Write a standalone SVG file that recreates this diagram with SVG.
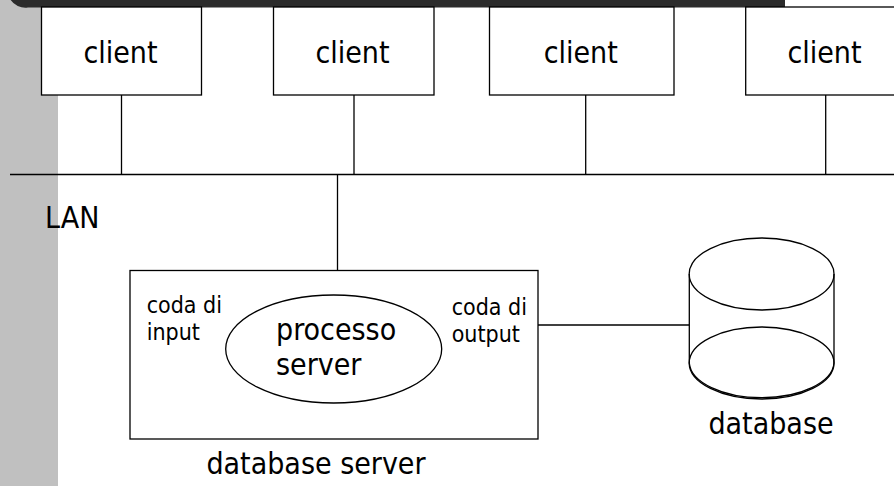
<svg xmlns="http://www.w3.org/2000/svg" width="894" height="486" viewBox="0 0 894 486">
<style>
.ln{stroke:#000;stroke-width:1.3;fill:none}
.box{stroke:#000;stroke-width:1.3;fill:#fff}
.t{font-family:"DejaVu Sans Condensed","DejaVu Sans",sans-serif;font-stretch:condensed;fill:#000}
.big{font-size:30px}
.sm{font-size:23px}
</style>
<rect x="0" y="0" width="58" height="486" fill="#c0c0c0"/>
<path d="M10,-1 H785 V7.5 H28 A18,18 0 0 1 10,-1 Z" fill="#2b2b2b"/>
<g id="connectors">
<line class="ln" x1="10" y1="174.5" x2="894" y2="174.5"/>
<line class="ln" x1="121.5" y1="95" x2="121.5" y2="174.5"/>
<line class="ln" x1="354" y1="95" x2="354" y2="174.5"/>
<line class="ln" x1="585.7" y1="95" x2="585.7" y2="174.5"/>
<line class="ln" x1="825.7" y1="95" x2="825.7" y2="174.5"/>
<line class="ln" x1="337.5" y1="174.5" x2="337.5" y2="270.5"/>
<line class="ln" x1="538" y1="325" x2="689.5" y2="325"/>
</g>
<g id="client1">
<rect class="box" x="41.5" y="7" width="160" height="88"/>
<text class="t big" x="120.5" y="63" text-anchor="middle">client</text>
</g>
<g id="client2">
<rect class="box" x="273.5" y="7" width="160.5" height="88"/>
<text class="t big" x="352.5" y="63" text-anchor="middle">client</text>
</g>
<g id="client3">
<rect class="box" x="489.5" y="7" width="184.5" height="88"/>
<text class="t big" x="580.7" y="63" text-anchor="middle">client</text>
</g>
<g id="client4">
<rect class="box" x="745.7" y="7" width="160" height="88"/>
<text class="t big" x="824.5" y="63" text-anchor="middle">client</text>
</g>
<g id="lan">
<text class="t big" x="45" y="228">LAN</text>
</g>
<g id="server">
<rect class="box" x="130" y="270.5" width="408" height="168.5"/>
<ellipse class="ln" cx="333.7" cy="349" rx="108" ry="54"/>
<text class="t big" x="276" y="340">processo</text>
<text class="t big" x="276" y="375">server</text>
<text class="t sm" x="146.7" y="313">coda di</text>
<text class="t sm" x="146.7" y="340">input</text>
<text class="t sm" x="451.7" y="315">coda di</text>
<text class="t sm" x="451.7" y="342">output</text>
<text class="t big" x="316" y="474" text-anchor="middle">database server</text>
</g>
<g id="database">
<path class="box" d="M689.3,274 V363 A72.4,36 0 0 0 834,363 V274"/>
<ellipse class="ln" cx="761.6" cy="274" rx="72.4" ry="36"/>
<ellipse class="ln" cx="761.6" cy="363" rx="72.4" ry="36"/>
<text class="t big" x="771" y="434" text-anchor="middle">database</text>
</g>
</svg>
